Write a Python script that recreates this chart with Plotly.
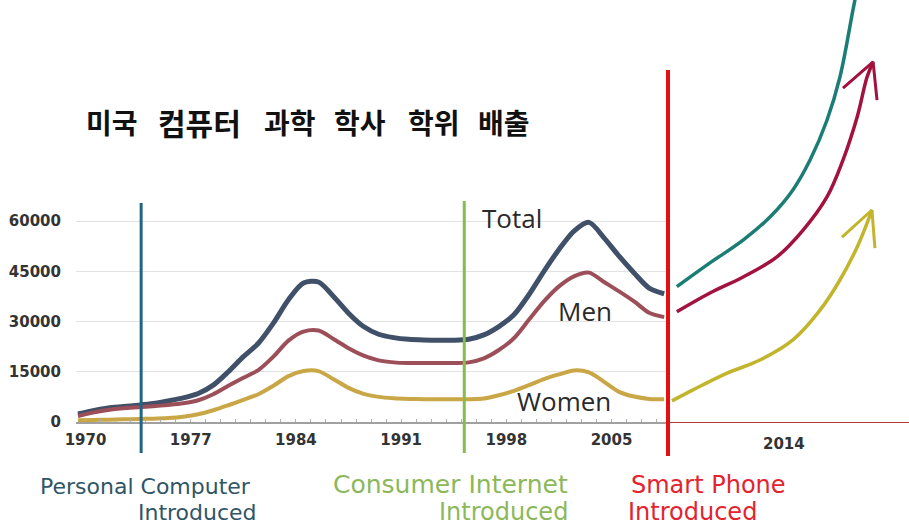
import plotly.graph_objects as go

# ---------------- data ----------------
years = list(range(1970, 2010))
total = [2400, 3400, 4200, 4600, 5000, 5500, 6300, 7200, 8500, 11000,
         15000, 19500, 23500, 29500, 36500, 41500, 41800, 37500, 32500, 28500,
         26200, 25200, 24700, 24500, 24400, 24400, 24700, 26000, 28500, 32000,
         38000, 45000, 51500, 57000, 59600, 55000, 49500, 44500, 40000, 38300]
men = [1800, 2800, 3600, 4100, 4400, 4700, 5100, 5600, 6500, 8300,
       10800, 13200, 15500, 19500, 24300, 27000, 27300, 24800, 22000, 19800,
       18400, 17800, 17600, 17600, 17600, 17600, 17800, 19000, 21500, 25000,
       30500, 36000, 40500, 43500, 44600, 41800, 39000, 36000, 32600, 31300]
women = [500, 600, 700, 800, 900, 1000, 1200, 1600, 2300, 3500,
         5000, 6600, 8300, 10800, 13700, 15200, 15200, 12800, 10200, 8400,
         7500, 7100, 6900, 6800, 6800, 6800, 6800, 7000, 8000, 9300,
         11000, 12800, 14200, 15400, 14800, 12000, 9000, 7600, 6900, 6800]

tick_years = [1970, 1977, 1984, 1991, 1998, 2005]
y_ticks = [0, 15000, 30000, 45000, 60000]

# hand-drawn projection (after smartphone)
proj_total_x = [2009.38, 2010.81, 2012.24, 2013.40, 2014.39, 2015.13, 2015.86, 2016.42, 2016.98, 2017.11]
proj_total_y = [40400, 47500, 54300, 61200, 69300, 78200, 90100, 103000, 123000, 127500]
proj_men_x = [2009.38, 2010.81, 2012.24, 2013.70, 2014.83, 2015.86, 2016.55, 2017.16, 2017.59, 2017.85]
proj_men_y = [32900, 38500, 43300, 49300, 57300, 67200, 78200, 91000, 103000, 107500]
proj_women_x = [2009.17, 2010.08, 2011.55, 2012.97, 2014.39, 2015.56, 2016.42, 2017.16, 2017.59, 2017.80]
proj_women_y = [6300, 9600, 14600, 18500, 24500, 33400, 42400, 52200, 59400, 63300]
head_men_x = [2016.55, 2017.85, 2018.02]
head_men_y = [99700, 107500, 96100]
head_women_x = [2016.51, 2017.80, 2017.93]
head_women_y = [55200, 63300, 51900]
proj_tick = [2014]

events = [1974.2, 1995.7]
title_words = ['미국', '컴퓨터', '과학', '학사', '학위', '배출']

# ---------------- layout helpers ----------------
W, H = 909, 527
ML, MR, MT, MB = 76, 0, 0, 105
PW = W - ML - MR
PH = H - MT - MB


def px_x(p):
    return (p - ML) / PW


def px_y(p):
    return (H - MB - p) / PH


split = px_x(668)

C_TOTAL = '#3f5068'
C_MEN = '#9c4f58'
C_WOMEN = '#c9a746'
C_PT = '#1b7d76'
C_PM = '#a3123f'
C_PW = '#c2b52c'

fig = go.Figure()
fig.add_trace(go.Scatter(x=years, y=total, mode='lines', line=dict(color=C_TOTAL, width=5, shape='spline', smoothing=0.8), xaxis='x', yaxis='y'))
fig.add_trace(go.Scatter(x=years, y=men, mode='lines', line=dict(color=C_MEN, width=4, shape='spline', smoothing=0.8), xaxis='x', yaxis='y'))
fig.add_trace(go.Scatter(x=years, y=women, mode='lines', line=dict(color=C_WOMEN, width=4, shape='spline', smoothing=0.8), xaxis='x', yaxis='y'))

fig.add_trace(go.Scatter(x=proj_total_x, y=proj_total_y, mode='lines', line=dict(color=C_PT, width=3.5, shape='spline'), xaxis='x2', yaxis='y2'))
fig.add_trace(go.Scatter(x=proj_men_x, y=proj_men_y, mode='lines', line=dict(color=C_PM, width=3.5, shape='spline'), xaxis='x2', yaxis='y2'))
fig.add_trace(go.Scatter(x=proj_women_x, y=proj_women_y, mode='lines', line=dict(color=C_PW, width=3.5, shape='spline'), xaxis='x2', yaxis='y2'))
fig.add_trace(go.Scatter(x=head_men_x, y=head_men_y, mode='lines', line=dict(color=C_PM, width=3), xaxis='x2', yaxis='y2'))
fig.add_trace(go.Scatter(x=head_women_x, y=head_women_y, mode='lines', line=dict(color=C_PW, width=3), xaxis='x2', yaxis='y2'))

tickfont = dict(family='DejaVu Sans', size=15, color='#333333', weight='bold')

r0 = 1970 - 2 / 15.03
r1 = r0 + (668 - ML) / 15.03

fig.update_layout(
    width=W, height=H,
    margin=dict(l=ML, r=MR, t=MT, b=MB),
    paper_bgcolor='white', plot_bgcolor='white',
    showlegend=False,
    xaxis=dict(domain=[0, split], range=[r0, r1],
               tickvals=[y + 0.5 for y in tick_years], ticktext=[str(y) for y in tick_years],
               showgrid=False, zeroline=False, showline=True, linecolor='#a0a0a0', linewidth=1.5,
               ticks='', tickfont=tickfont, ticklabelstandoff=3,
               minor=dict(dtick=1, tick0=1970.5, ticks='inside', ticklen=3, tickcolor='#b0b0b0', showgrid=False)),
    yaxis=dict(domain=[0, 1], range=[0, 126000], anchor='x',
               tickvals=y_ticks, ticktext=[str(v) for v in y_ticks],
               showgrid=True, gridcolor='#e2e2e2', gridwidth=1, zeroline=False,
               showline=False, ticks='', tickfont=tickfont, ticklabelstandoff=14),
    xaxis2=dict(domain=[split, 1], range=[2009, 2019.4], anchor='y2',
                tickvals=proj_tick, ticktext=[str(v) for v in proj_tick],
                showgrid=False, zeroline=False, showline=True, linecolor='#b23a3a', linewidth=1,
                ticks='', tickfont=tickfont, ticklabelstandoff=8),
    yaxis2=dict(domain=[0, 1], range=[0, 126000], anchor='x2',
                showgrid=False, zeroline=False, showline=False, showticklabels=False),
)

# event lines
fig.add_shape(type='line', xref='x', yref='paper', x0=events[0], x1=events[0], y0=px_y(203), y1=px_y(453),
              line=dict(color='#1f6585', width=3))
fig.add_shape(type='line', xref='x', yref='paper', x0=events[1], x1=events[1], y0=px_y(201), y1=px_y(453),
              line=dict(color='#86bd4a', width=3))
fig.add_shape(type='line', xref='paper', yref='paper', x0=split, x1=split, y0=px_y(70), y1=px_y(456),
              line=dict(color='#e3100f', width=4))

# series labels
lab_font = dict(family='Open Sans', size=26, color='#2a2a2a')
fig.add_annotation(x=px_x(480), y=px_y(218), xref='paper', yref='paper', text='Total', showarrow=False,
                   xanchor='left', yanchor='middle', font=lab_font)
fig.add_annotation(x=px_x(556), y=px_y(311), xref='paper', yref='paper', text='Men', showarrow=False,
                   xanchor='left', yanchor='middle', font=lab_font)
fig.add_annotation(x=px_x(515), y=px_y(401), xref='paper', yref='paper', text='Women', showarrow=False,
                   xanchor='left', yanchor='middle', font=lab_font)

# title (word by word, wide spacing as in the reference)
title_px = [85, 157, 263, 333, 407, 477]
title_sz = [28, 30, 28, 28, 28, 28]
for wd, xp, sz in zip(title_words, title_px, title_sz):
    fig.add_annotation(x=px_x(xp - 1), y=px_y(122), xref='paper', yref='paper', text=wd, showarrow=False,
                       xanchor='left', yanchor='middle',
                       font=dict(family='Noto Sans CJK KR', size=sz, color='#111111', weight='bold'))

# bottom event labels (one annotation per line)
ev_font = 'DejaVu Sans'
bottom = [
    ('Personal Computer', 252, 486, 'right', 22, '#2f5566'),
    ('Introduced', 258, 512, 'right', 22, '#2f5566'),
    ('Consumer Internet', 569, 485, 'right', 25, '#8cb85a'),
    ('Introduced', 569, 512, 'right', 24, '#8cb85a'),
    ('Smart Phone', 630, 485, 'left', 24, '#e3232e'),
    ('Introduced', 627, 512, 'left', 24, '#e3232e'),
]
for txt, xp, yp, anc, sz, col in bottom:
    fig.add_annotation(x=px_x(xp), y=px_y(yp), xref='paper', yref='paper', text=txt, showarrow=False,
                       xanchor=anc, yanchor='middle', borderpad=0,
                       font=dict(family=ev_font, size=sz, color=col))

fig.write_html('out.html', config={'displayModeBar': False},
               post_script="document.body.style.margin='0px';document.body.style.overflow='hidden';")
